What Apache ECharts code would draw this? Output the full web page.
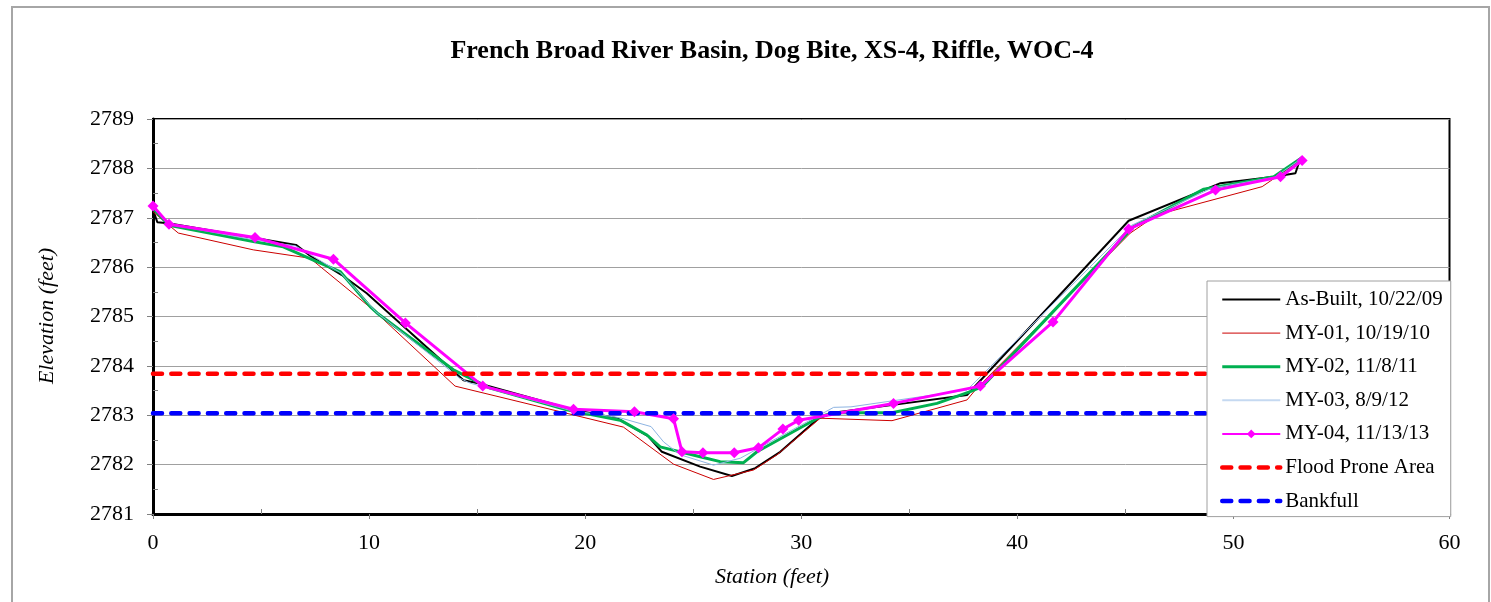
<!DOCTYPE html>
<html>
<head>
<meta charset="utf-8">
<title>French Broad River Basin, Dog Bite, XS-4, Riffle, WOC-4</title>
<script src="https://cdn.jsdelivr.net/npm/echarts@6/dist/echarts.min.js"></script>
<style>
  html, body { margin: 0; padding: 0; background: #fff; }
  #chart { width: 1491px; height: 602px; }
</style>
</head>
<body>
<div id="chart"></div>
<script>
// Cross-section survey, station (ft) vs. elevation (ft)
const asBuiltSta  = [0, 0.2, 0.71, 6.62, 7.27, 8.74, 9.89, 14.37, 15.06, 19.46, 21.47, 22.93, 23.55, 25.32, 26.79, 27.87, 29.03, 30.8, 31.48, 34.26, 37.67, 45.15, 49.4, 51.87, 52.87, 53.02, 53.18];
const asBuiltElev = [2787.16, 2786.91, 2786.89, 2786.45, 2786.23, 2785.84, 2785.47, 2783.71, 2783.65, 2783.11, 2782.94, 2782.57, 2782.26, 2781.96, 2781.77, 2781.93, 2782.26, 2782.94, 2783.05, 2783.21, 2783.41, 2786.94, 2787.70, 2787.83, 2787.90, 2788.10, 2788.20];

const my01Sta  = [0, 1.17, 4.64, 7.27, 10.2, 13.98, 21.77, 24.09, 25.94, 27.79, 28.88, 30.88, 34.2, 37.67, 38.13, 45.23, 46.47, 51.33, 53.1];
const my01Elev = [2787.12, 2786.69, 2786.35, 2786.18, 2785.13, 2783.59, 2782.76, 2782.01, 2781.70, 2781.89, 2782.20, 2782.94, 2782.89, 2783.31, 2783.55, 2786.69, 2787.06, 2787.63, 2788.16];

const my02Sta  = [0, 0.74, 4.64, 6.03, 7.42, 8.66, 10.05, 10.43, 13.9, 15.6, 19.15, 21.62, 22.86, 23.47, 25.32, 26.25, 27.33, 27.95, 30.88, 31.5, 34.2, 36.28, 37.82, 38.37, 45.38, 48.63, 51.87, 53.18];
const my02Elev = [2787.19, 2786.85, 2786.52, 2786.41, 2786.14, 2785.91, 2785.20, 2785.05, 2783.92, 2783.55, 2783.11, 2782.90, 2782.60, 2782.36, 2782.16, 2782.06, 2782.04, 2782.26, 2782.97, 2783.05, 2783.05, 2783.24, 2783.48, 2783.58, 2786.82, 2787.58, 2787.83, 2788.22];

const my03Sta  = [0, 0.74, 4.7, 6.6, 8.7, 10.3, 14.2, 14.68, 19.3, 21.6, 23.05, 23.63, 24.4, 25.94, 27.18, 31.5, 32.3, 37.67, 45.3, 49.0, 51.9, 53.15];
const my03Elev = [2787.20, 2786.87, 2786.55, 2786.43, 2785.88, 2785.10, 2783.75, 2783.65, 2783.10, 2782.95, 2782.77, 2782.46, 2782.20, 2781.99, 2782.13, 2783.16, 2783.17, 2783.51, 2786.85, 2787.60, 2787.82, 2788.20];

const my04Sta  = [0, 0.74, 4.72, 8.35, 11.68, 15.26, 19.46, 22.28, 24.09, 24.48, 25.45, 26.9, 28.02, 29.15, 29.88, 34.27, 38.29, 41.65, 45.15, 49.17, 52.18, 53.18];
const my04Elev = [2787.24, 2786.87, 2786.60, 2786.16, 2784.87, 2783.59, 2783.12, 2783.07, 2782.93, 2782.26, 2782.24, 2782.24, 2782.34, 2782.72, 2782.90, 2783.24, 2783.59, 2784.89, 2786.77, 2787.56, 2787.83, 2788.16];

const floodSta  = [0, 53.2];
const floodElev = [2783.84, 2783.84];
const bankSta   = [0, 53.2];
const bankElev  = [2783.04, 2783.04];

const seriesNames = ['As-Built, 10/22/09', 'MY-01, 10/19/10', 'MY-02, 11/8/11', 'MY-03, 8/9/12', 'MY-04, 11/13/13', 'Flood Prone Area', 'Bankfull'];

const xTicks = { min: 0, max: 60, step: 10 };
const yTicks = { min: 2781, max: 2789, step: 1 };

const pair = (sta, elev) => sta.map((s, i) => [s, elev[i]]);

const FONT = "'Liberation Serif', 'Times New Roman', serif";

const chart = echarts.init(document.getElementById('chart'), null, { renderer: 'canvas' });

const tickLine = { color: '#808080', width: 1 };
const dash = [9, 9.3];

// legend entries: only the MY-04 entry keeps its marker
const hiddenMarker = { color: 'rgba(0,0,0,0)', borderWidth: 0, opacity: 0 };
const legendData = [
  { name: seriesNames[0], itemStyle: hiddenMarker, lineStyle: { width: 2 } },
  { name: seriesNames[1], itemStyle: hiddenMarker, lineStyle: { width: 1 } },
  { name: seriesNames[2], itemStyle: hiddenMarker, lineStyle: { width: 3 } },
  { name: seriesNames[3], itemStyle: hiddenMarker, lineStyle: { width: 2, color: '#c5d9f1' } },
  { name: seriesNames[4], lineStyle: { width: 2 } },
  { name: seriesNames[5], itemStyle: hiddenMarker, lineStyle: { width: 4.5, type: dash, cap: 'round' } },
  { name: seriesNames[6], itemStyle: hiddenMarker, lineStyle: { width: 4.5, type: dash, cap: 'round' } }
];

chart.setOption({
  animation: false,
  backgroundColor: '#fff',
  textStyle: { fontFamily: FONT },
  title: {
    text: 'French Broad River Basin, Dog Bite, XS-4, Riffle, WOC-4',
    left: 767,
    top: 33,
    textAlign: 'center',
    textStyle: { fontFamily: FONT, fontSize: 26, fontWeight: 'bold', color: '#000' }
  },
  grid: {
    left: 153, top: 119, right: 41.5, bottom: 88,
    show: true, borderColor: '#000', borderWidth: 2, backgroundColor: 'transparent'
  },
  xAxis: {
    type: 'value',
    min: xTicks.min, max: xTicks.max, interval: xTicks.step,
    axisLine: { show: true, onZero: false, lineStyle: { color: '#000', width: 3 } },
    axisTick: { show: true, inside: false, length: 5, lineStyle: tickLine },
    minorTick: { show: true, splitNumber: 2, length: -5, lineStyle: tickLine },
    splitLine: { show: false },
    axisLabel: { margin: 18, fontFamily: FONT, fontSize: 22, color: '#000' }
  },
  yAxis: {
    type: 'value',
    min: yTicks.min, max: yTicks.max, interval: yTicks.step,
    axisLine: { show: true, onZero: false, lineStyle: { color: '#000', width: 3 } },
    axisTick: { show: true, inside: false, length: 6, lineStyle: tickLine },
    minorTick: { show: true, splitNumber: 2, length: -5, lineStyle: tickLine },
    splitLine: { show: true, lineStyle: { color: '#a0a0a0', width: 1 } },
    axisLabel: { margin: 19, fontFamily: FONT, fontSize: 22, color: '#000', formatter: (v) => String(v) }
  },
  legend: {
    orient: 'vertical',
    left: 1207, top: 281,
    padding: [8, 8, 5, 13],
    itemWidth: 58, itemHeight: 11, itemGap: 12.6,
    backgroundColor: '#fff',
    borderColor: '#a0a0a0', borderWidth: 1,
    textStyle: { fontFamily: FONT, fontSize: 21, color: '#000' },
    data: legendData
  },
  graphic: [
    {
      type: 'rect', silent: true, z: -1,
      shape: { x: 12, y: 7, width: 1477, height: 610 },
      style: { fill: 'none', stroke: '#a6a6a6', lineWidth: 2 }
    },
    {
      type: 'text', silent: true,
      x: 47, y: 316, rotation: Math.PI / 2,
      style: { text: 'Elevation (feet)', fontFamily: FONT, fontSize: 22, fontStyle: 'italic', fill: '#000', align: 'center', verticalAlign: 'middle' }
    },
    {
      type: 'text', silent: true,
      x: 772, y: 577,
      style: { text: 'Station (feet)', fontFamily: FONT, fontSize: 22, fontStyle: 'italic', fill: '#000', align: 'center', verticalAlign: 'middle' }
    }
  ],
  series: [
    { name: seriesNames[0], type: 'line', symbol: 'none', data: pair(asBuiltSta, asBuiltElev),
      lineStyle: { color: '#000000', width: 2 }, itemStyle: { color: '#000000' } },
    { name: seriesNames[1], type: 'line', symbol: 'none', data: pair(my01Sta, my01Elev),
      lineStyle: { color: '#cc0000', width: 1 }, itemStyle: { color: '#cc0000' } },
    { name: seriesNames[2], type: 'line', symbol: 'none', data: pair(my02Sta, my02Elev),
      lineStyle: { color: '#00b050', width: 3 }, itemStyle: { color: '#00b050' } },
    { name: seriesNames[3], type: 'line', symbol: 'none', data: pair(my03Sta, my03Elev),
      lineStyle: { color: '#8db4e2', width: 1 }, itemStyle: { color: '#8db4e2' } },
    { name: seriesNames[4], type: 'line', symbol: 'diamond', symbolSize: 11, data: pair(my04Sta, my04Elev),
      lineStyle: { color: '#ff00ff', width: 3 }, itemStyle: { color: '#ff00ff' } },
    { name: seriesNames[5], type: 'line', symbol: 'none', data: pair(floodSta, floodElev),
      lineStyle: { color: '#ff0000', width: 4.5, type: dash, cap: 'round' }, itemStyle: { color: '#ff0000' } },
    { name: seriesNames[6], type: 'line', symbol: 'none', data: pair(bankSta, bankElev),
      lineStyle: { color: '#0000ff', width: 4.5, type: dash, cap: 'round' }, itemStyle: { color: '#0000ff' } }
  ]
});
</script>
</body>
</html>
